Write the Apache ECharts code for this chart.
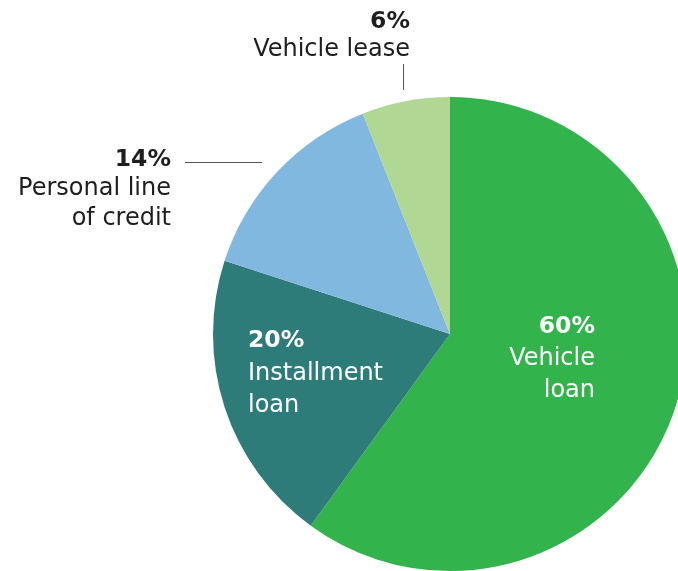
<!DOCTYPE html>
<html>
<head>
<meta charset="utf-8">
<script src="https://cdn.jsdelivr.net/npm/echarts@6/dist/echarts.min.js"></script>
<style>
html,body{margin:0;padding:0;background:#fff;}
#c{width:678px;height:571px;}
</style>
</head>
<body>
<div id="c"></div>
<script>
const categories = ["Vehicle loan", "Installment loan", "Personal line of credit", "Vehicle lease"];
const labelLines = [["Vehicle", "loan"], ["Installment", "loan"], ["Personal line", "of credit"], ["Vehicle lease"]];
const values = [60, 20, 14, 6];
const colors = ["#33b34b", "#2d7c7a", "#80b8df", "#b1d795"];

const chart = echarts.init(document.getElementById('c'), null, {renderer: 'canvas'});

const cx = 450, cy = 334, R = 237;
// label placement: x, top y, alignment, line height
const labelPos = [
  {x: 595, y: 311, align: 'right', lh: 32},
  {x: 248, y: 325, align: 'left', lh: 32.5},
  {x: 171, y: 145, align: 'right', lh: 29.5},
  {x: 410, y: 8, align: 'right', lh: 28}
];
const inside = [true, true, false, false];

const FONT = '"DejaVu Sans", sans-serif';

chart.setOption({
  animation: false,
  series: [{
    type: 'pie',
    center: [cx, cy],
    radius: [0, R],
    startAngle: 90,
    clockwise: true,
    silent: true,
    avoidLabelOverlap: false,
    data: categories.map((c, i) => {
      const col = inside[i] ? '#ffffff' : '#1e1e1e';
      return {
        name: c,
        value: values[i],
        itemStyle: {color: colors[i]},
        label: {
          position: inside[i] ? 'inside' : 'outside',
          color: col,
          rich: {
            p: {fontFamily: FONT, fontWeight: 'bold', fontSize: 23.5, color: col, lineHeight: labelPos[i].lh, align: labelPos[i].align},
            n: {fontFamily: FONT, fontSize: 24, color: col, lineHeight: labelPos[i].lh, align: labelPos[i].align}
          }
        }
      };
    }),
    label: {
      show: true,
      formatter: p => '{p|' + values[p.dataIndex] + '%}\n' + labelLines[p.dataIndex].map(s => '{n|' + s + '}').join('\n')
    },
    labelLine: {show: false},
    labelLayout: params => ({
      x: labelPos[params.dataIndex].x,
      y: labelPos[params.dataIndex].y,
      align: labelPos[params.dataIndex].align,
      verticalAlign: 'top',
      moveOverlap: false,
      hideOverlap: false
    })
  }],
  graphic: [
    {type: 'line', shape: {x1: 185, y1: 162.5, x2: 262, y2: 162.5}, style: {stroke: '#555', lineWidth: 1}},
    {type: 'line', shape: {x1: 403.5, y1: 64, x2: 403.5, y2: 90}, style: {stroke: '#555', lineWidth: 1}}
  ]
});
</script>
</body>
</html>
